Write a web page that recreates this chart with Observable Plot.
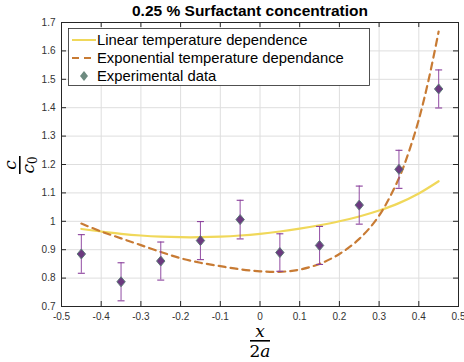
<!DOCTYPE html>
<html><head><meta charset="utf-8">
<script src="https://cdn.jsdelivr.net/npm/d3@7"></script>
<script src="https://cdn.jsdelivr.net/npm/@observablehq/plot@0.6"></script>
<style>body{margin:0;background:#fff}</style>
</head><body><div id="chart"></div>
<script>
const titleText = "0.25 % Surfactant concentration";
const pointX = [-0.45,-0.35,-0.25,-0.15,-0.05,0.05,0.15,0.25,0.35,0.45];
const pointY = [0.885,0.787,0.860,0.932,1.006,0.890,0.915,1.057,1.183,1.466];
const pointErr = [0.068,0.067,0.067,0.067,0.068,0.066,0.067,0.067,0.067,0.067];
const linX = [-0.45,-0.4,-0.35,-0.3,-0.25,-0.2,-0.15,-0.1,-0.05,0,0.05,0.1,0.15,0.2,0.25,0.3,0.35,0.4,0.45];
const linY = [0.973,0.964,0.956,0.950,0.946,0.944,0.944,0.946,0.950,0.956,0.964,0.974,0.986,1.000,1.017,1.038,1.064,1.098,1.141];
const expX = [-0.45,-0.4,-0.35,-0.3,-0.25,-0.2,-0.15,-0.1,-0.05,0,0.05,0.1,0.15,0.2,0.25,0.3,0.35,0.375,0.4,0.425,0.45];
const expY = [0.992,0.964,0.940,0.916,0.892,0.870,0.854,0.842,0.831,0.824,0.822,0.830,0.850,0.885,0.938,1.020,1.152,1.245,1.358,1.500,1.668];
const xTicks = [-0.5,-0.4,-0.3,-0.2,-0.1,0,0.1,0.2,0.3,0.4,0.5];
const xTickLabels = ["-0.5","-0.4","-0.3","-0.2","-0.1","0","0.1","0.2","0.3","0.4","0.5"];
const yTicks = [0.7,0.8,0.9,1,1.1,1.2,1.3,1.4,1.5,1.6,1.7];
const yTickLabels = ["0.7","0.8","0.9","1","1.1","1.2","1.3","1.4","1.5","1.6","1.7"];
const legendLabels = ["Linear temperature dependence","Exponential temperature dependance","Experimental data"];

const W = 464, H = 362, mL = 61, mR = 6, mT = 22, mB = 56;
const innerW = W - mL - mR, innerH = H - mT - mB;
const cLin = "#f0d85a", cExp = "#c87b34", cErr = "#8a3f9c", cFill = "#6c3a80", cEdge = "#5f7b7a";
const axisColor = "#262626";

const points = pointX.map((x,i)=>({x, y: pointY[i], lo: pointY[i]-pointErr[i], hi: pointY[i]+pointErr[i]}));
const lin = linX.map((x,i)=>({x, y: linY[i]}));
const exp = expX.map((x,i)=>({x, y: expY[i]}));

const capSymbol = {draw(ctx){ ctx.moveTo(-3.5,0); ctx.lineTo(3.5,0); }};
const diamondSymbol = {draw(ctx){ ctx.moveTo(0,-5); ctx.lineTo(4.2,0); ctx.lineTo(0,5); ctx.lineTo(-4.2,0); ctx.closePath(); }};

const chart = Plot.plot({
  width: W, height: H,
  marginLeft: mL, marginRight: mR, marginTop: mT, marginBottom: mB,
  style: {fontFamily: "'Liberation Sans', Arial, Helvetica, sans-serif", fontSize: "10px", color: axisColor, background: "#fff"},
  x: {domain: [-0.5, 0.5]},
  y: {domain: [0.7, 1.7]},
  marks: [
    Plot.gridX(xTicks, {stroke: "#dedede", strokeOpacity: 1}),
    Plot.gridY(yTicks, {stroke: "#dedede", strokeOpacity: 1}),
    Plot.axisX({ticks: xTicks, tickSize: 0, tickPadding: 6, tickFormat: (d)=>xTickLabels[xTicks.indexOf(d)], label: null, fill: "#333"}),
    Plot.axisY({ticks: yTicks, tickSize: 0, tickPadding: 6, tickFormat: (d)=>yTickLabels[yTicks.indexOf(d)], label: null, fill: "#333"}),
    Plot.tickX(xTicks, {x: d=>d, insetTop: innerH-5, stroke: axisColor}),
    Plot.tickX(xTicks, {x: d=>d, insetBottom: innerH-5, stroke: axisColor}),
    Plot.tickY(yTicks, {y: d=>d, insetRight: innerW-5, stroke: axisColor}),
    Plot.tickY(yTicks, {y: d=>d, insetLeft: innerW-5, stroke: axisColor}),
    Plot.line(lin, {x: "x", y: "y", stroke: cLin, strokeWidth: 2.2, curve: "catmull-rom"}),
    Plot.line(exp, {x: "x", y: "y", stroke: cExp, strokeWidth: 2.2, strokeDasharray: "7,5", curve: "catmull-rom"}),
    Plot.ruleX(points, {x: "x", y1: "lo", y2: "hi", stroke: cErr, strokeWidth: 1.1, strokeOpacity: 0.85}),
    Plot.dot(points, {x: "x", y: "hi", symbol: capSymbol, stroke: cErr, strokeWidth: 1.1, fill: "none"}),
    Plot.dot(points, {x: "x", y: "lo", symbol: capSymbol, stroke: cErr, strokeWidth: 1.1, fill: "none"}),
    Plot.dot(points, {x: "x", y: "y", symbol: diamondSymbol, fill: cFill, stroke: cEdge, strokeWidth: 1}),
    Plot.frame({stroke: axisColor, strokeWidth: 1})
  ]
});

const svg = d3.select(chart);
// Title
svg.append("text").attr("x", 250).attr("y", 16).attr("text-anchor", "middle")
  .attr("font-family", "'Liberation Sans', Arial, sans-serif").attr("font-weight", "bold")
  .attr("font-size", 15.5).attr("fill", "#000").text(titleText);

// Legend
const lg = svg.append("g").attr("font-family", "'Liberation Sans', Arial, sans-serif").attr("font-size", 14.8).attr("text-anchor", "start");
lg.append("rect").attr("x", 68.5).attr("y", 28.5).attr("width", 301).attr("height", 57)
  .attr("fill", "#fff").attr("stroke", axisColor).attr("stroke-width", 0.8);
const rows = [40, 58, 76];
lg.append("line").attr("x1", 72).attr("x2", 96).attr("y1", rows[0]).attr("y2", rows[0]).attr("stroke", cLin).attr("stroke-width", 2);
lg.append("line").attr("x1", 72).attr("x2", 96).attr("y1", rows[1]).attr("y2", rows[1]).attr("stroke", cExp).attr("stroke-width", 2).attr("stroke-dasharray", "7,5");
lg.append("path").attr("d", "M84,71 L88,76 L84,81 L80,76 Z").attr("fill", "#6e8b80");
legendLabels.forEach((t,i)=>{
  lg.append("text").attr("x", 97).attr("y", rows[i]+5).attr("text-anchor", "start").attr("fill", "#000").text(t);
});

// X label: x / 2a
const serif = "'DejaVu Serif', 'Liberation Serif', serif";
const xl = svg.append("g").attr("transform", "translate(260,341)").attr("font-family", serif).attr("font-size", 17).attr("text-anchor", "middle").attr("fill", "#000");
xl.append("text").attr("y", -4).attr("font-style", "italic").text("x");
xl.append("rect").attr("x", -10).attr("y", -1).attr("width", 20).attr("height", 1.6).attr("fill", "#000");
const t2 = xl.append("text").attr("y", 16);
t2.append("tspan").text("2");
t2.append("tspan").attr("font-style", "italic").text("a");

// Y label: c / c0
const yl = svg.append("g").attr("transform", "translate(20,165) rotate(-90)").attr("font-family", serif).attr("font-size", 17).attr("text-anchor", "middle").attr("fill", "#000");
yl.append("text").attr("y", -4).attr("font-style", "italic").text("c");
yl.append("rect").attr("x", -9).attr("y", -1).attr("width", 18).attr("height", 1.6).attr("fill", "#000");
const c0 = yl.append("text").attr("y", 14);
c0.append("tspan").attr("font-style", "italic").text("c");
c0.append("tspan").attr("font-size", 12).attr("dy", 3).text("0");

document.getElementById("chart").appendChild(chart);
</script>
</body></html>
